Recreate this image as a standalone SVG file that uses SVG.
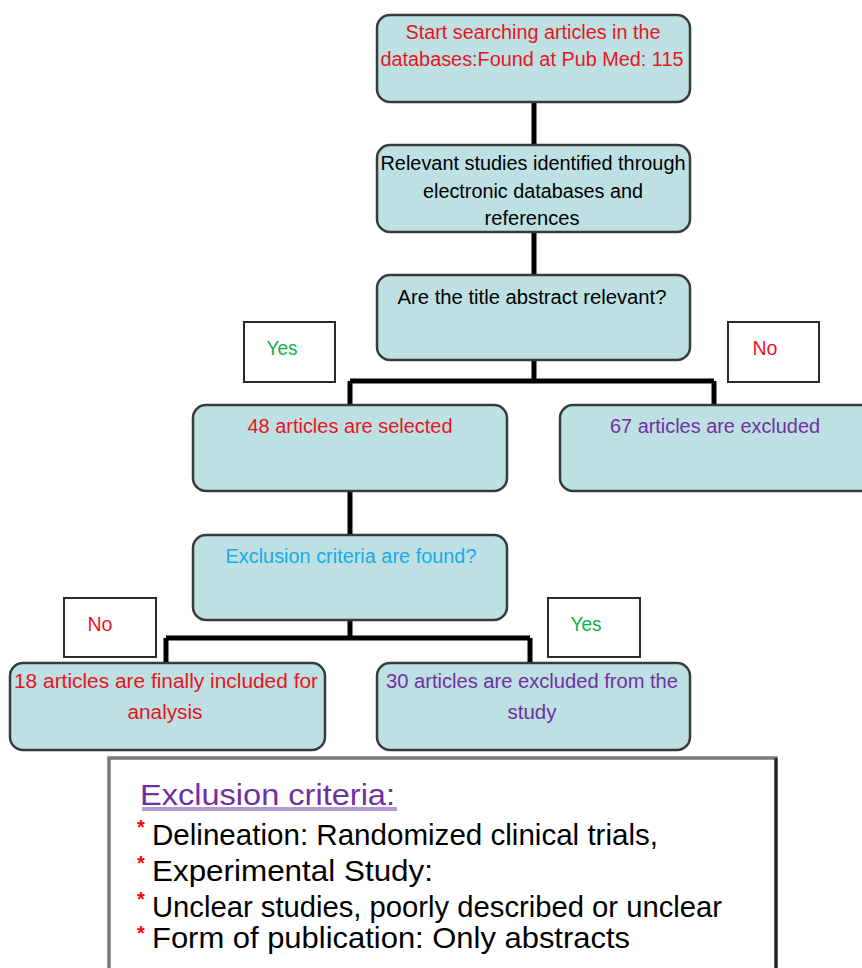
<svg xmlns="http://www.w3.org/2000/svg" width="862" height="968" viewBox="0 0 862 968">
<style>
.box{fill:#bde0e3;stroke:#3a3a3a;stroke-width:2.5}
.lbl{fill:#ffffff;stroke:#2a2a2a;stroke-width:2}
.t{font-family:"Liberation Sans",Arial,sans-serif;font-size:20px;text-anchor:middle}
.b{font-family:"Liberation Sans",Arial,sans-serif;font-size:30px;fill:#000}
.ast{font-family:"Liberation Sans",Arial,sans-serif;font-size:20px;font-weight:bold;fill:#ff0000}
.con{stroke:#000;stroke-width:5;fill:none}
.red{fill:#e8141e}.pur{fill:#7030a0}.grn{fill:#12b04a}.blu{fill:#1aa8e8}.blk{fill:#000}
</style>
<rect width="862" height="968" fill="#ffffff"/>
<g id="connectors">
<path class="con" d="M534 102V145M534 232V275M534 360V381M350 381H714M350 381V405M714 381V405"/>
<path class="con" d="M350 491V535M350 620V638M166 638H530M166 638V663M530 638V663"/>
</g>
<g id="n1">
<rect class="box" x="377" y="15" width="313" height="87" rx="13"/>
<text class="t red" x="533" y="39" textLength="255" lengthAdjust="spacingAndGlyphs">Start searching articles in the</text>
<text class="t red" x="532" y="66" textLength="303" lengthAdjust="spacingAndGlyphs">databases:Found at Pub Med: 115</text>
</g>
<g id="n2">
<rect class="box" x="377" y="145" width="313" height="87" rx="13"/>
<text class="t blk" x="533" y="170" textLength="305" lengthAdjust="spacingAndGlyphs">Relevant studies identified through</text>
<text class="t blk" x="533" y="198" textLength="220" lengthAdjust="spacingAndGlyphs">electronic databases and</text>
<text class="t blk" x="532" y="225" textLength="95" lengthAdjust="spacingAndGlyphs">references</text>
</g>
<g id="n3">
<rect class="box" x="377" y="275" width="313" height="85" rx="13"/>
<text class="t blk" x="532" y="304" textLength="269" lengthAdjust="spacingAndGlyphs">Are the title abstract relevant?</text>
</g>
<g id="yes1">
<rect class="lbl" x="244" y="322" width="91" height="60"/>
<text class="t grn" x="282" y="355" textLength="31" lengthAdjust="spacingAndGlyphs">Yes</text>
</g>
<g id="no1">
<rect class="lbl" x="728" y="322" width="91" height="60"/>
<text class="t red" x="765" y="355" textLength="25" lengthAdjust="spacingAndGlyphs">No</text>
</g>
<g id="n4">
<rect class="box" x="193" y="405" width="314" height="86" rx="13"/>
<text class="t red" x="350" y="433" textLength="205" lengthAdjust="spacingAndGlyphs">48 articles are selected</text>
</g>
<g id="n5">
<rect class="box" x="560" y="405" width="320" height="86" rx="13"/>
<text class="t pur" x="715" y="433" textLength="210" lengthAdjust="spacingAndGlyphs">67 articles are excluded</text>
</g>
<g id="n6">
<rect class="box" x="193" y="535" width="314" height="85" rx="13"/>
<text class="t blu" x="351" y="563" textLength="251" lengthAdjust="spacingAndGlyphs">Exclusion criteria are found?</text>
</g>
<g id="no2">
<rect class="lbl" x="64" y="598" width="92" height="59"/>
<text class="t red" x="100" y="631" textLength="25" lengthAdjust="spacingAndGlyphs">No</text>
</g>
<g id="yes2">
<rect class="lbl" x="548" y="598" width="92" height="59"/>
<text class="t grn" x="586" y="631" textLength="31" lengthAdjust="spacingAndGlyphs">Yes</text>
</g>
<g id="n7">
<rect class="box" x="10" y="663" width="315" height="87" rx="13"/>
<text class="t red" x="166" y="688" textLength="304" lengthAdjust="spacingAndGlyphs">18 articles are finally included for</text>
<text class="t red" x="165" y="719" textLength="75" lengthAdjust="spacingAndGlyphs">analysis</text>
</g>
<g id="n8">
<rect class="box" x="377" y="663" width="313" height="87" rx="13"/>
<text class="t pur" x="532" y="688" textLength="292" lengthAdjust="spacingAndGlyphs">30 articles are excluded from the</text>
<text class="t pur" x="532" y="719" textLength="49" lengthAdjust="spacingAndGlyphs">study</text>
</g>
<g id="criteria">
<rect x="109" y="758" width="667" height="220" fill="#ffffff" stroke="#7a7a7a" stroke-width="3.5"/>
<line x1="776" y1="758" x2="776" y2="968" stroke="#222" stroke-width="3"/>
<text class="b" x="140" y="805" style="fill:#7030a0" textLength="255" lengthAdjust="spacingAndGlyphs">Exclusion criteria:</text>
<rect x="142" y="807" width="255" height="4" fill="#b59ad2"/>
<text class="ast" x="137" y="834">*</text>
<text class="b" x="152" y="845" textLength="506" lengthAdjust="spacingAndGlyphs">Delineation: Randomized clinical trials,</text>
<text class="ast" x="137" y="870">*</text>
<text class="b" x="152" y="881" textLength="281" lengthAdjust="spacingAndGlyphs">Experimental Study:</text>
<text class="ast" x="137" y="906">*</text>
<text class="b" x="152" y="917" textLength="570" lengthAdjust="spacingAndGlyphs">Unclear studies, poorly described or unclear</text>
<text class="ast" x="137" y="940">*</text>
<text class="b" x="152" y="948" textLength="478" lengthAdjust="spacingAndGlyphs">Form of publication: Only abstracts</text>
</g>
</svg>
